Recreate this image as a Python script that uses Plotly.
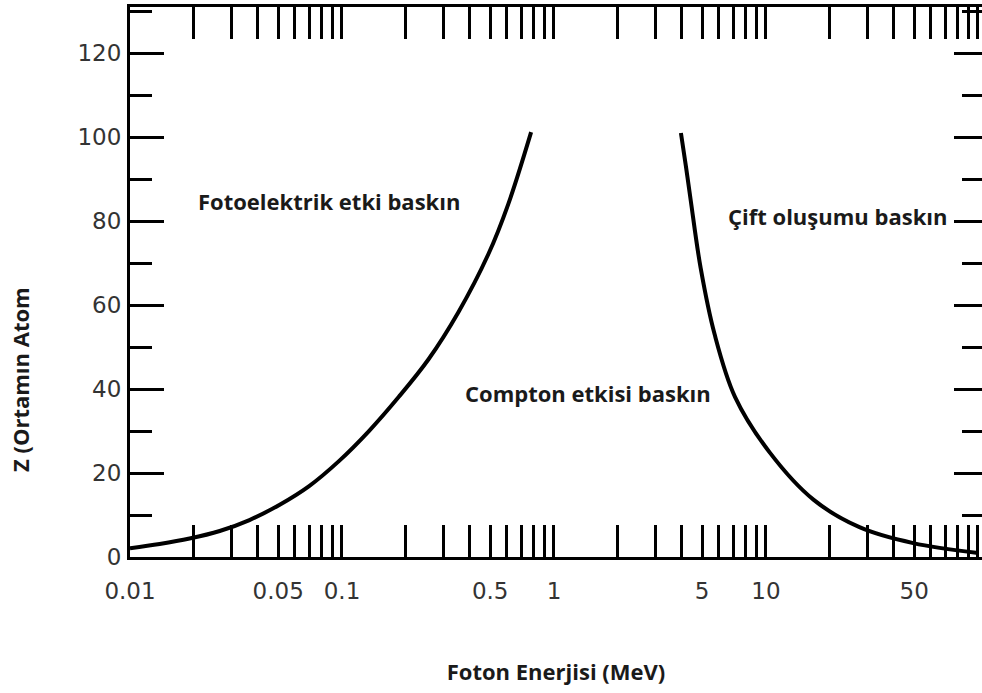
import math
import plotly.graph_objects as go

# Photoelectric / Compton boundary (left curve)
left_E = [0.01, 0.0138, 0.0191, 0.0265, 0.0366, 0.0506, 0.070, 0.097, 0.134, 0.185, 0.256, 0.354, 0.49, 0.608, 0.78]
left_Z = [2.1, 3.1, 4.4, 6.2, 8.8, 12.4, 16.9, 22.9, 30.0, 38.1, 47.1, 58.3, 72.1, 84.0, 101.2]

# Compton / pair production boundary (right curve)
right_E = [3.97, 4.19, 4.42, 4.92, 5.72, 7.15, 10.45, 16.8, 27.6, 49.5, 100.0]
right_Z = [101.0, 93.1, 84.8, 68.8, 53.1, 38.1, 24.8, 13.6, 7.1, 3.3, 0.95]

x_major = [0.01, 0.05, 0.1, 0.5, 1, 5, 10, 50, 100]
x_major_text = ["0.01", "0.05", "0.1", "0.5", "1", "5", "10", "50", ""]
x_minor = [0.02, 0.03, 0.04, 0.06, 0.07, 0.08, 0.09,
           0.2, 0.3, 0.4, 0.6, 0.7, 0.8, 0.9,
           2, 3, 4, 6, 7, 8, 9,
           20, 30, 40, 60, 70, 80, 90]
y_major = [0, 20, 40, 60, 80, 100, 120]
y_minor = [10, 30, 50, 70, 90, 110, 130]

region_labels = ["Fotoelektrik etki baskın", "Compton etkisi baskın", "Çift oluşumu baskın"]
region_E = [0.087, 1.445, 21.8]
region_Z = [84.8, 39.0, 81.2]

x_title = "Foton Enerjisi (MeV)"
y_title = "Z (Ortamın Atom"

label_font = dict(family="Open Sans", size=22, color="#1a1a1a")
tick_font = dict(family="DejaVu Sans", size=23, color="#333333")

fig = go.Figure()
fig.add_trace(go.Scatter(x=left_E, y=left_Z, mode="lines",
                         line=dict(color="black", width=4, shape="spline", smoothing=1),
                         showlegend=False, hoverinfo="skip"))
fig.add_trace(go.Scatter(x=right_E, y=right_Z, mode="lines",
                         line=dict(color="black", width=4, shape="spline", smoothing=1),
                         showlegend=False, hoverinfo="skip"))
# empty trace so the right-hand tick axis is drawn
fig.add_trace(go.Scatter(x=[None], y=[None], yaxis="y2", mode="lines",
                         showlegend=False, hoverinfo="skip"))

for t, e, z in zip(region_labels, region_E, region_Z):
    fig.add_annotation(x=math.log10(e), y=z, xref="x", yref="y", text="<b>" + t + "</b>",
                       showarrow=False, font=label_font, xanchor="center", yanchor="middle")

fig.add_annotation(x=-0.129, y=0.322, xref="paper", yref="paper", text="<b>" + y_title + "</b>",
                   textangle=-90, showarrow=False, font=label_font,
                   xanchor="center", yanchor="middle")

fig.update_layout(
    width=982, height=693,
    margin=dict(l=130, r=0, t=7, b=136),
    paper_bgcolor="white", plot_bgcolor="white",
    showlegend=False,
    xaxis=dict(
        type="log", range=[-2, 2.019],
        tickmode="array", tickvals=x_major, ticktext=x_major_text,
        ticks="inside", ticklen=32, tickwidth=2.5, tickcolor="black",
        showline=True, linecolor="black", linewidth=3, mirror="allticks",
        showgrid=False, zeroline=False,
        tickfont=tick_font,
        ticklabelstandoff=11,
        minor=dict(tickmode="array", tickvals=x_minor, ticks="inside", ticklen=20,
                   tickwidth=2.5, tickcolor="black", showgrid=False),
        title=dict(text="<b>" + x_title + "</b>", font=label_font, standoff=63),
    ),
    yaxis=dict(
        range=[0, 131],
        tickmode="array", tickvals=y_major,
        ticks="inside", ticklen=34, tickwidth=2.5, tickcolor="black",
        showline=True, linecolor="black", linewidth=3, mirror=False,
        showgrid=False, zeroline=False,
        tickfont=tick_font,
        ticklabelstandoff=1,
        minor=dict(tickmode="array", tickvals=y_minor, ticks="inside", ticklen=22,
                   tickwidth=2.5, tickcolor="black", showgrid=False),
    ),
    yaxis2=dict(
        range=[0, 131], overlaying="y", side="right", anchor="x",
        tickmode="array", tickvals=y_major, showticklabels=False,
        ticks="inside", ticklen=28, tickwidth=2.5, tickcolor="black",
        showline=False, showgrid=False, zeroline=False,
        minor=dict(tickmode="array", tickvals=y_minor, ticks="inside", ticklen=20,
                   tickwidth=2.5, tickcolor="black", showgrid=False),
    ),
)

fig.write_html("out.html")
